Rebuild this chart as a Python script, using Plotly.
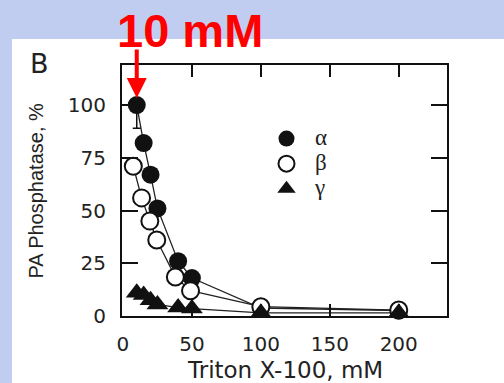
import plotly.graph_objects as go

# ---- data ----
alpha_x = [10, 15, 20, 25, 40, 50, 100, 200]
alpha_y = [100, 82, 67, 51, 26, 18, 3.8, 2.6]
alpha_err_minus = [11, 0, 0, 0, 0, 0, 0, 0]

beta_x = [7.5, 13.5, 19.5, 24.5, 38, 49, 100, 200]
beta_y = [71, 56, 45, 36, 18.5, 12, 4.4, 2.8]

gamma_x = [10, 15, 20, 25, 40, 50, 100, 200]
gamma_y = [11, 10, 7.5, 5.5, 4, 3.5, 1.5, 1.5]

x_ticks = [0, 50, 100, 150, 200]
y_ticks = [0, 25, 50, 75, 100]

W, H = 504, 383
L, R, T, B = 122, 57, 65, 67
PW, PH = W - L - R, H - T - B

def px(x):
    return (x - L) / PW

def py(y):
    return (H - B - y) / PH

fig = go.Figure()

# connecting lines (no legend)
for xs, ys in [(alpha_x, alpha_y), (beta_x, beta_y), (gamma_x, gamma_y)]:
    fig.add_trace(go.Scatter(x=xs, y=ys, mode="lines",
                             line=dict(color="#222", width=1.3),
                             showlegend=False, hoverinfo="skip", cliponaxis=False))

def big(s):
    return "<span style='font-size:23px'>" + s + "</span>"

fig.add_trace(go.Scatter(
    x=alpha_x, y=alpha_y, mode="markers", name=big("α"),
    marker=dict(symbol="circle", size=18, color="#111", line=dict(width=0)),
    error_y=dict(type="data", symmetric=False, array=[0] * len(alpha_x),
                 arrayminus=alpha_err_minus, color="#111", thickness=1.5, width=4),
    cliponaxis=False))
fig.add_trace(go.Scatter(
    x=beta_x, y=beta_y, mode="markers", name=big("β"),
    marker=dict(symbol="circle", size=17, color="white", line=dict(width=2, color="#111")),
    cliponaxis=False))
fig.add_trace(go.Scatter(
    x=gamma_x, y=gamma_y, mode="markers", name=big("γ"),
    marker=dict(symbol="triangle-up", size=19, color="#111", line=dict(width=0)),
    cliponaxis=False))

axis_common = dict(showline=True, linecolor="#111", linewidth=2, mirror="ticks",
                   ticks="inside", tickcolor="#111", tickwidth=2,
                   showgrid=False, zeroline=False,
                   tickfont=dict(family="DejaVu Sans", size=20, color="#222"))

fig.update_xaxes(range=[-0.7, 235], tickvals=x_ticks, ticklen=12,
                 ticklabelstandoff=9, **axis_common)
fig.update_yaxes(range=[0, 119], tickvals=y_ticks, ticklen=16,
                 ticklabelstandoff=10, **axis_common)

fig.update_layout(
    width=W, height=H,
    margin=dict(l=L, r=R, t=T, b=B, pad=0),
    paper_bgcolor="#c0cdf0",
    plot_bgcolor="white",
    legend=dict(x=px(258), y=py(121), xanchor="left", yanchor="top",
                bgcolor="rgba(0,0,0,0)", borderwidth=0,
                font=dict(family="Liberation Serif", size=17, color="#222"),
                itemwidth=47, tracegroupgap=0),
    shapes=[dict(type="rect", xref="paper", yref="paper",
                 x0=px(12), x1=px(W + 5), y0=py(H + 5), y1=py(39),
                 fillcolor="white", line=dict(width=0), layer="below")],
    annotations=[
        dict(text="PA Phosphatase, %", xref="paper", yref="paper",
             x=px(35), y=0.5, textangle=-90, showarrow=False,
             xanchor="center", yanchor="middle",
             font=dict(family="Liberation Sans", size=20, color="#222")),
        dict(text="Triton X-100, mM", xref="paper", yref="paper",
             x=0.5, y=py(370), showarrow=False,
             xanchor="center", yanchor="middle",
             font=dict(family="DejaVu Sans", size=23, color="#222")),
        dict(text="B", xref="paper", yref="paper",
             x=px(39), y=py(63), showarrow=False,
             xanchor="center", yanchor="middle",
             font=dict(family="DejaVu Sans", size=27, color="#222")),
        dict(text="<b>10 mM</b>", xref="paper", yref="paper",
             x=px(190), y=py(31), showarrow=False,
             xanchor="center", yanchor="middle",
             font=dict(family="Liberation Sans", size=47, color="#ff0000")),
        dict(text="", x=alpha_x[0], y=alpha_y[0], xref="x", yref="y",
             showarrow=True, arrowhead=2, arrowsize=1, arrowwidth=4,
             arrowcolor="#ff0000", ax=0, ay=-57, standoff=7),
    ],
)

fig.write_html("out.html", config={"displayModeBar": False},
               post_script="document.body.style.margin='0';document.body.style.padding='0';")
